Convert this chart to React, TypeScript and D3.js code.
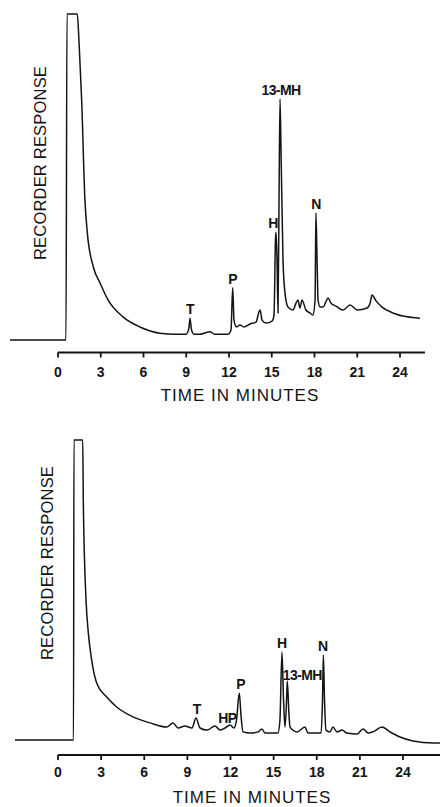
import React from "react";
import * as d3 from "d3";

// ---------- DATA ----------
const tickMinutes = [0, 3, 6, 9, 12, 15, 18, 21, 24];

// Top chromatogram (time in minutes, response in % of full scale)
const topTime = [
  -3.37, 0.56, 0.63, 1.35, 1.47, 1.66, 1.89, 2.06, 2.48, 2.95, 3.51, 4.56, 5.75, 7.16, 8.2, 9.0,
  9.19, 9.26, 9.37, 9.54, 9.96, 10.67, 11.0, 11.93, 12.14, 12.26, 12.35, 12.53, 12.77, 13.05,
  13.47, 13.9, 14.1, 14.18, 14.32, 14.6, 15.02, 15.16, 15.26, 15.3, 15.37, 15.44, 15.51, 15.58,
  15.65, 15.79, 15.93, 16.14, 16.49, 16.7, 16.84, 16.98, 17.12, 17.4, 17.68, 17.89, 18.04, 18.1,
  18.18, 18.25, 18.39, 18.6, 18.8, 18.95, 19.16, 19.5, 20.0, 20.5, 21.0, 21.68, 21.9, 22.04,
  22.32, 22.74, 23.5, 24.5, 25.4,
];
const topResponse = [
  0, 0, 100, 100, 92, 73.6, 42.9, 32.8, 22.4, 17.5, 12.3, 7.1, 4.0, 2.1, 1.8, 1.8,
  3.7, 6.7, 3.1, 1.8, 1.8, 2.5, 1.8, 1.8, 3.1, 16, 6.1, 4.0, 4.6, 4.0,
  4.9, 5.5, 8.6, 9.2, 6.1, 5.2, 5.8, 7.7, 30.7, 33.1, 24.5, 8.3, 42.9, 73.9,
  58.3, 24.5, 14.4, 10.1, 9.2, 11.3, 12.3, 9.8, 12.3, 9.2, 8.3, 7.7, 12.3, 39,
  24.5, 12.3, 10.1, 10.1, 11.7, 12.9, 11.3, 10.4, 9.2, 10.7, 9.2, 9.8, 11.3, 13.8,
  12.0, 10.1, 8.3, 7.1, 6.7,
];
const topAxisEnd = 25.75;
const topLabelText = ["T", "P", "H", "13-MH", "N"];
const topLabelTime = [9.26, 12.26, 15.09, 15.65, 18.1];
const topLabelResponse = [6.7, 16, 33.1, 73.9, 39];

// Bottom chromatogram
const bottomTime = [
  -2.99, 1.08, 1.11, 1.72, 1.76, 1.95, 2.11, 2.34, 2.69, 3.39, 4.08, 5.22, 6.4, 7.56, 8.0, 8.35,
  8.83, 9.32, 9.6, 9.88, 10.37, 10.92, 11.27, 11.62, 11.97, 12.24, 12.42, 12.61, 12.73, 12.87,
  13.36, 13.91, 14.19, 14.4, 15.3, 15.44, 15.58, 15.69, 15.79, 15.9, 15.95, 16.07, 16.14, 16.63,
  17.18, 17.39, 18.3, 18.4, 18.46, 18.54, 18.64, 18.92, 19.13, 19.41, 19.76, 20.1, 20.8, 21.22,
  21.57, 21.91, 22.54, 23.1, 23.79, 24.7, 26.09, 26.57,
];
const bottomResponse = [
  0, 0, 100, 100, 80, 46.7, 35.7, 26.7, 19, 14.3, 11, 7.7, 5.7, 4.3, 5.7, 4.0,
  4.7, 4.0, 7.3, 4.0, 3.3, 4.7, 3.3, 4.0, 5.0, 4.0, 6.7, 15.7, 8.3, 2.7,
  2.3, 2.7, 3.7, 2.3, 2.3, 6.7, 29.3, 13.3, 4.3, 13.3, 19.7, 8.3, 4.3, 2.7,
  4.3, 2.3, 2.3, 13.3, 28.3, 13.3, 3.3, 2.7, 4.3, 2.7, 3.3, 2.3, 2.0, 3.7,
  2.3, 2.7, 4.3, 2.7, 1.0, -0.3, -1, -1,
];
const bottomAxisEnd = 26.6;
const bottomLabelText = ["T", "HP", "P", "H", "13-MH", "N"];
const bottomLabelTime = [9.65, 11.79, 12.7, 15.56, 17.0, 18.41];
const bottomLabelResponse = [7.3, 4.3, 15.7, 29.3, 18.7, 28.3];

const yTitle = "RECORDER RESPONSE";
const xTitle = "TIME IN MINUTES";

// ---------- COMPONENT ----------
const FONT = "'Liberation Sans', Arial, 'DejaVu Sans', sans-serif";
const INK = "#141414";

type PanelProps = {
  time: number[];
  resp: number[];
  axisEnd: number;
  xRange: [number, number];
  yRange: [number, number];
  axisY: number;
  tickLabelDy: number;
  titleY: number;
  titleX: number;
  yTitleX: number;
  yTitleY: number;
  labelText: string[];
  labelTime: number[];
  labelResp: number[];
};

function Panel(p: PanelProps) {
  const x = d3.scaleLinear().domain([0, 24]).range(p.xRange);
  const y = d3.scaleLinear().domain([0, 100]).range(p.yRange);
  const pts: [number, number][] = p.time.map((t, i) => [t, p.resp[i]]);
  const line = d3
    .line<[number, number]>()
    .x((d) => x(d[0]))
    .y((d) => y(d[1]))
    .curve(d3.curveMonotoneX);
  return (
    <g>
      <path d={line(pts) || ""} fill="none" stroke={INK} strokeWidth={1.5} strokeLinejoin="round" />
      {/* x axis */}
      <line x1={x(0)} x2={x(p.axisEnd)} y1={p.axisY} y2={p.axisY} stroke={INK} strokeWidth={2.2} />
      {tickMinutes.map((t) => (
        <g key={t}>
          <line x1={x(t)} x2={x(t)} y1={p.axisY} y2={p.axisY + 5} stroke={INK} strokeWidth={1.8} />
          <text
            x={x(t)}
            y={p.axisY + p.tickLabelDy}
            textAnchor="middle"
            fontFamily={FONT}
            fontWeight="bold"
            fontSize={14}
            fill={INK}
          >
            {t}
          </text>
        </g>
      ))}
      <text
        x={p.titleX}
        y={p.titleY}
        textAnchor="middle"
        fontFamily={FONT}
        fontSize={17}
        letterSpacing={1}
        fill={INK}
      >
        {xTitle}
      </text>
      <text
        transform={`translate(${p.yTitleX},${p.yTitleY}) rotate(-90)`}
        textAnchor="middle"
        fontFamily={FONT}
        fontSize={16.5}
        letterSpacing={0.2}
        fill={INK}
      >
        {yTitle}
      </text>
      {p.labelText.map((s, i) => (
        <text
          key={s + i}
          x={x(p.labelTime[i])}
          y={y(p.labelResp[i]) - 4}
          textAnchor="middle"
          fontFamily={FONT}
          fontWeight="bold"
          fontSize={14}
          letterSpacing={-0.6}
          fill={INK}
        >
          {s}
        </text>
      ))}
    </g>
  );
}

export default function App() {
  return (
    <svg
      width={440}
      height={807}
      viewBox="0 0 440 807"
      style={{ position: "absolute", left: 0, top: 0, background: "#fff" }}
    >
      <rect width={440} height={807} fill="#fff" />
      <Panel
        time={topTime}
        resp={topResponse}
        axisEnd={topAxisEnd}
        xRange={[58, 400]}
        yRange={[340, 14]}
        axisY={352.5}
        tickLabelDy={24.5}
        titleY={401}
        titleX={240}
        yTitleX={46}
        yTitleY={163}
        labelText={topLabelText}
        labelTime={topLabelTime}
        labelResp={topLabelResponse}
      />
      <Panel
        time={bottomTime}
        resp={bottomResponse}
        axisEnd={bottomAxisEnd}
        xRange={[58, 403]}
        yRange={[740, 440]}
        axisY={755}
        tickLabelDy={22}
        titleY={803}
        titleX={252}
        yTitleX={53}
        yTitleY={563}
        labelText={bottomLabelText}
        labelTime={bottomLabelTime}
        labelResp={bottomLabelResponse}
      />
    </svg>
  );
}
